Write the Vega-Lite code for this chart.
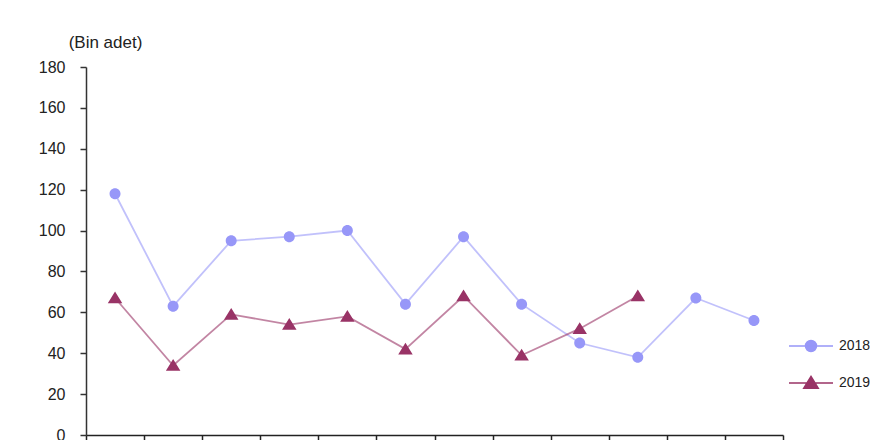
{
  "$schema": "https://vega.github.io/schema/vega-lite/v6.json",
  "autosize": "none",
  "width": 697,
  "height": 368,
  "padding": {"left": 86, "top": 67, "right": 97, "bottom": 5},
  "background": "white",
  "config": {
    "view": {"stroke": null},
    "font": "Liberation Sans",
    "axis": {"grid": false, "domainColor": "#333", "tickColor": "#333", "labelColor": "#222", "labelFont": "Liberation Sans", "titleFont": "Liberation Sans"},
    "legend": {"labelFont": "Liberation Sans", "orient": "none", "legendX": 718, "legendY": 272, "title": null, "padding": 0, "labelFontSize": 14, "labelColor": "#222", "labelOffset": 21, "rowPadding": 18, "symbolSize": 100, "symbolStrokeWidth": 1.5, "symbolOpacity": 1}
  },
  "data": {
    "values": [
      {"ay": 1, "yil": "2018", "deger": 118},
      {"ay": 2, "yil": "2018", "deger": 63},
      {"ay": 3, "yil": "2018", "deger": 95},
      {"ay": 4, "yil": "2018", "deger": 97},
      {"ay": 5, "yil": "2018", "deger": 100},
      {"ay": 6, "yil": "2018", "deger": 64},
      {"ay": 7, "yil": "2018", "deger": 97},
      {"ay": 8, "yil": "2018", "deger": 64},
      {"ay": 9, "yil": "2018", "deger": 45},
      {"ay": 10, "yil": "2018", "deger": 38},
      {"ay": 11, "yil": "2018", "deger": 67},
      {"ay": 12, "yil": "2018", "deger": 56},
      {"ay": 1, "yil": "2019", "deger": 67},
      {"ay": 2, "yil": "2019", "deger": 34},
      {"ay": 3, "yil": "2019", "deger": 59},
      {"ay": 4, "yil": "2019", "deger": 54},
      {"ay": 5, "yil": "2019", "deger": 58},
      {"ay": 6, "yil": "2019", "deger": 42},
      {"ay": 7, "yil": "2019", "deger": 68},
      {"ay": 8, "yil": "2019", "deger": 39},
      {"ay": 9, "yil": "2019", "deger": 52},
      {"ay": 10, "yil": "2019", "deger": 68}
    ]
  },
  "encoding": {
    "x": {
      "field": "ay", "type": "quantitative",
      "scale": {"domain": [0.5, 12.5], "nice": false, "zero": false},
      "axis": {"values": [0.5,1.5,2.5,3.5,4.5,5.5,6.5,7.5,8.5,9.5,10.5,11.5,12.5], "labels": false, "title": null, "tickSize": 7, "domainWidth": 1.5, "tickWidth": 1.5, "domainColor": "#222", "tickColor": "#222"}
    },
    "y": {
      "field": "deger", "type": "quantitative",
      "scale": {"domain": [0, 180], "nice": false},
      "axis": {"values": [0,20,40,60,80,100,120,140,160,180], "tickSize": 6, "labelPadding": 15, "labelFontSize": 16, "domainWidth": 1.5, "tickWidth": 1.5, "title": "(Bin adet)", "titleAngle": 0, "titleX": 19, "titleY": -25, "titleAlign": "center", "titleBaseline": "middle", "titleFontSize": 17, "titleFontWeight": "normal", "titleColor": "#222"}
    },
    "color": {
      "field": "yil", "type": "nominal",
      "scale": {"domain": ["2018", "2019"], "range": ["#9797f8", "#993366"]}
    }
  },
  "layer": [
    {
      "mark": {"type": "line", "strokeWidth": 1.8, "opacity": 0.6}
    },
    {
      "mark": {"type": "point", "filled": true, "size": 100, "opacity": 1},
      "encoding": {
        "shape": {"field": "yil", "type": "nominal", "scale": {"domain": ["2018", "2019"], "range": ["M-4.4,0L4.4,0M1.1,0A1.1,1.1,0,1,1,-1.1,0A1.1,1.1,0,1,1,1.1,0Z", "M-4.4,0L4.4,0M0,-1.3L1.45,1.05L-1.45,1.05Z"]}},
        "stroke": {"field": "yil", "type": "nominal", "scale": {"domain": ["2018", "2019"], "range": ["#aaaaee", "#a25a7c"]}},
        "strokeWidth": {"value": 0},
        "opacity": {"value": 1}
      }
    }
  ]
}
